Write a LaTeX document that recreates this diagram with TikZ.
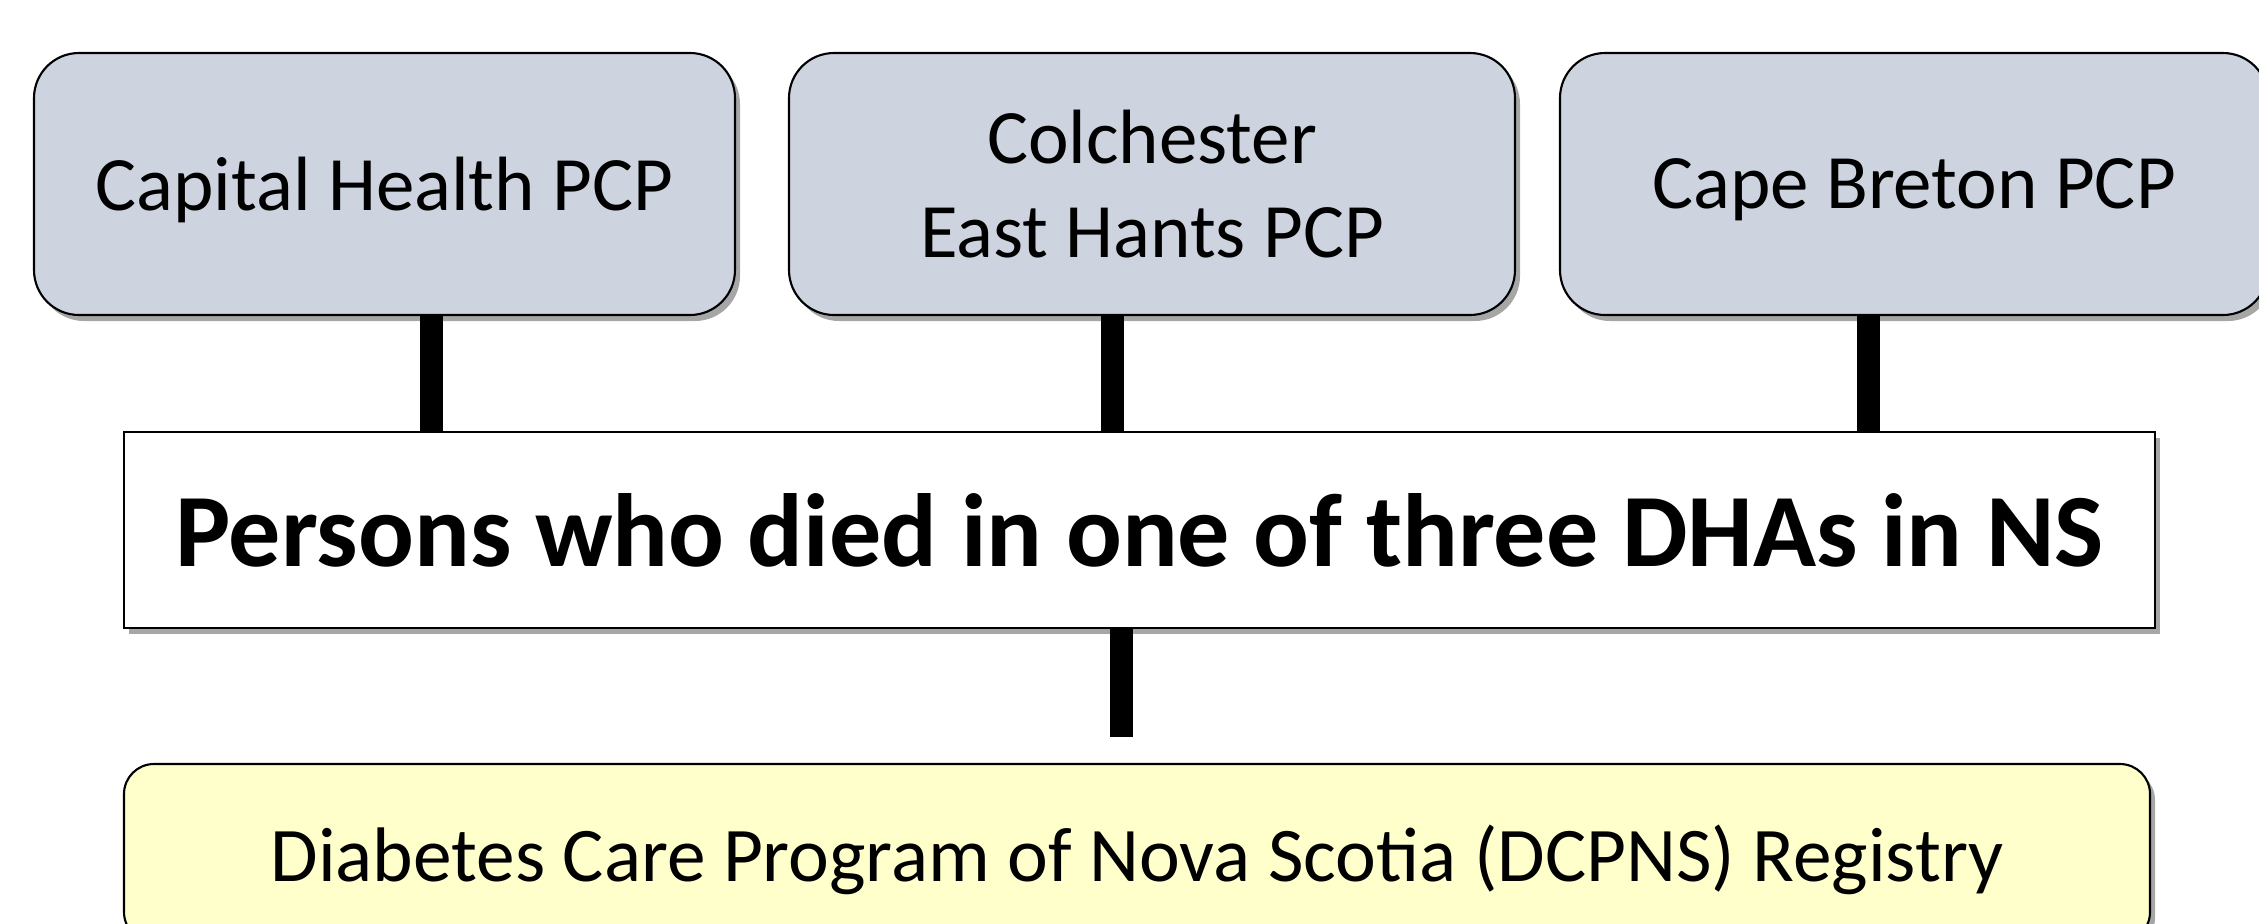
\documentclass[tikz,border=0pt]{standalone}
\usepackage{fontspec}
\setmainfont{Carlito}
\usetikzlibrary{shadows}
\definecolor{pcpgray}{RGB}{206,212,223}
\definecolor{regyellow}{RGB}{255,255,204}

\begin{document}
\begin{tikzpicture}[
  boxshadow/.style={drop shadow={shadow xshift=0.05cm, shadow yshift=-0.06cm, fill=black, opacity=0.35}},
  pcp/.style={draw=black, line width=0.6pt, rounded corners=0.45cm, fill=pcpgray, boxshadow,
    minimum height=2.62cm, align=center, font=\fontsize{21.9}{26.7}\selectfont},
  oneline/.style={text depth=0pt},
  dhabox/.style={draw=black, line width=0.6pt, fill=white, boxshadow,
    minimum width=20.31cm, minimum height=1.96cm, font=\fontsize{29.6}{34}\selectfont\bfseries},
  regbox/.style={draw=black, line width=0.6pt, rounded corners=0.3cm, fill=regyellow, boxshadow,
    minimum width=20.26cm, minimum height=1.78cm, text depth=0pt, font=\fontsize{22}{26.7}\selectfont},
  link/.style={line width=0.23cm}
]
\clip (0,0) rectangle (22.59,-9.23);
\node[pcp, oneline, minimum width=7.01cm] (cap) at (3.845,-1.84) {Capital Health PCP};
\node[pcp, minimum width=7.26cm] (col) at (11.52,-1.84) {Colchester\\East Hants PCP};
\node[pcp, oneline, minimum width=7.08cm] (cape) at (19.14,-1.84) {Cape Breton PCP};
\node[dhabox] (dha) at (11.395,-5.30) {Persons who died in one of three DHAs in NS};
\node[regbox] (reg) at (11.37,-8.53) {Diabetes Care Program of Nova Scotia (DCPNS) Registry};
\coordinate (stop) at (11.21,-7.37);
\draw[link] ([xshift=0.47cm]cap.south) -- ([xshift=0.47cm]cap.south |- dha.north);
\draw[link] ([xshift=-0.40cm]col.south) -- ([xshift=-0.40cm]col.south |- dha.north);
\draw[link] ([xshift=-0.46cm]cape.south) -- ([xshift=-0.46cm]cape.south |- dha.north);
\draw[link] (dha.south -| stop) -- (stop);
\end{tikzpicture}
\end{document}
